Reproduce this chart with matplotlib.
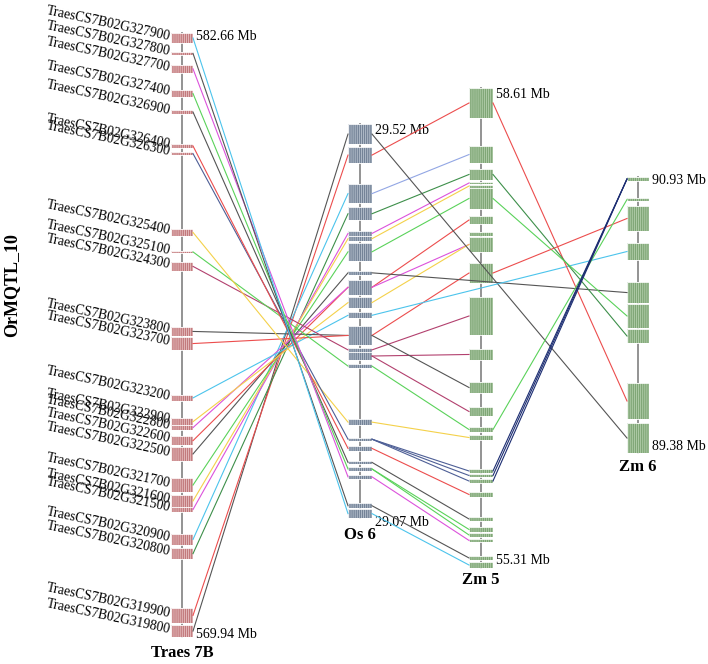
import matplotlib
matplotlib.use("Agg")
import matplotlib.pyplot as plt
from matplotlib.patches import Rectangle

plt.rcParams["font.family"] = ["Liberation Serif", "DejaVu Serif"]
plt.rcParams["hatch.linewidth"] = 0.6

# ---------------------------------------------------------------------------
# Data: gene blocks as (start Mb, end Mb), listed from the top of each bar
# ---------------------------------------------------------------------------
qtl_name = "OrMQTL_10"
chrom_names = ["Traes 7B", "Os 6", "Zm 5", "Zm 6"]
chrom_spans = [(582.66, 569.94), (29.52, 29.07), (58.61, 55.31), (90.93, 89.38)]

traes_genes = [
    "TraesCS7B02G327900", "TraesCS7B02G327800", "TraesCS7B02G327700",
    "TraesCS7B02G327400", "TraesCS7B02G326900", "TraesCS7B02G326400",
    "TraesCS7B02G326300", "TraesCS7B02G325400", "TraesCS7B02G325100",
    "TraesCS7B02G324300", "TraesCS7B02G323800", "TraesCS7B02G323700",
    "TraesCS7B02G323200", "TraesCS7B02G322900", "TraesCS7B02G322800",
    "TraesCS7B02G322600", "TraesCS7B02G322500", "TraesCS7B02G321700",
    "TraesCS7B02G321600", "TraesCS7B02G321500", "TraesCS7B02G320900",
    "TraesCS7B02G320800", "TraesCS7B02G319900", "TraesCS7B02G319800",
]
traes_blocks = [
    (582.66, 582.45), (582.26, 582.20), (581.99, 581.82), (581.46, 581.31),
    (581.04, 580.95), (580.32, 580.24), (580.15, 580.09), (578.53, 578.39),
    (578.07, 578.03), (577.84, 577.65), (576.47, 576.28), (576.26, 575.98),
    (575.04, 574.91), (574.55, 574.40), (574.40, 574.30), (574.17, 573.98),
    (573.94, 573.65), (573.29, 572.99), (572.93, 572.68), (572.68, 572.57),
    (572.11, 571.88), (571.81, 571.58), (570.55, 570.24), (570.19, 569.94),
]
os_blocks = [
    (29.520, 29.497), (29.494, 29.475), (29.451, 29.430), (29.425, 29.410),
    (29.398, 29.392), (29.392, 29.386), (29.384, 29.364), (29.352, 29.348),
    (29.342, 29.325), (29.322, 29.310), (29.305, 29.298), (29.289, 29.268),
    (29.264, 29.260), (29.260, 29.250), (29.246, 29.241), (29.183, 29.176),
    (29.161, 29.159), (29.152, 29.147), (29.135, 29.132), (29.128, 29.124),
    (29.119, 29.115), (29.087, 29.081), (29.080, 29.070),
]
zm5_blocks = [
    (58.610, 58.404), (58.211, 58.094), (58.053, 57.978), (57.964, 57.950),
    (57.943, 57.929), (57.923, 57.778), (57.730, 57.675), (57.620, 57.593),
    (57.586, 57.483), (57.407, 57.269), (57.173, 56.912), (56.816, 56.740),
    (56.589, 56.513), (56.417, 56.355), (56.279, 56.245), (56.224, 56.190),
    (55.991, 55.963), (55.956, 55.936), (55.922, 55.894), (55.833, 55.798),
    (55.661, 55.633), (55.592, 55.558), (55.551, 55.523), (55.510, 55.489),
    (55.393, 55.365), (55.351, 55.310),
]
zm6_blocks = [
    (90.930, 90.908), (90.812, 90.795), (90.767, 90.627), (90.559, 90.464),
    (90.340, 90.222), (90.217, 90.082), (90.076, 89.998), (89.773, 89.571),
    (89.548, 89.380),
]

# collinear pairs: (left block index, right block index, colour)
traes_os_links = [
    (23, 0, "grey"), (22, 1, "red"), (20, 2, "cyan"), (21, 3, "dgreen"),
    (19, 4, "magenta"), (18, 5, "yellow"), (17, 6, "green"), (16, 7, "grey"),
    (15, 8, "red"), (14, 8, "magenta"), (13, 9, "yellow"), (12, 10, "cyan"),
    (10, 11, "grey"), (11, 11, "red"), (9, 12, "maroon"), (8, 14, "green"),
    (7, 15, "yellow"), (6, 16, "slate"), (5, 17, "red"), (4, 18, "grey"),
    (3, 19, "green"), (2, 20, "magenta"), (1, 21, "grey"), (0, 22, "cyan"),
]
os_zm5_links = [
    (1, 0, "red"), (2, 1, "periwinkle"), (3, 2, "dgreen"), (4, 3, "magenta"),
    (5, 4, "yellow"), (6, 5, "green"), (8, 6, "red"), (8, 8, "magenta"),
    (9, 8, "yellow"), (11, 9, "red"), (12, 10, "maroon"), (13, 11, "maroon"),
    (11, 12, "grey"), (13, 13, "maroon"), (14, 14, "green"), (15, 15, "yellow"),
    (16, 16, "slate"), (16, 17, "slate"), (16, 18, "slate"), (17, 19, "red"),
    (18, 20, "grey"), (19, 21, "green"), (19, 22, "green"), (20, 23, "magenta"),
    (21, 24, "grey"), (22, 25, "cyan"),
]
os_zm6_links = [(0, 8, "grey"), (7, 4, "grey"), (10, 3, "cyan")]
zm5_zm6_links = [
    (0, 7, "red"), (2, 6, "dgreen"), (5, 5, "green"), (9, 2, "red"),
    (14, 1, "green"), (16, 0, "navy"), (17, 0, "navy"), (18, 0, "navy"),
]

LINK_COLOURS = {
    "grey": "#555555", "red": "#ec4d4d", "cyan": "#4cc4ec", "dgreen": "#3d8f4a",
    "magenta": "#dc52dc", "yellow": "#f4d14a", "green": "#5ad25a",
    "maroon": "#b2406e", "slate": "#4e5f96", "periwinkle": "#92a6e4",
    "navy": "#1c2d72",
}

# layout in figure pixels (x centre, top, bottom, half width, colours)
LAYOUT = [
    dict(x=182, top=33, bottom=637, half=11, face="#c27a7d", stripe="#e8c2c3",
         top_dy=4, bot_dy=-3, name_dy=16),
    dict(x=360, top=124, bottom=518, half=12, face="#748397", stripe="#b8c2cf",
         top_dy=6, bot_dy=5, name_dy=17),
    dict(x=481, top=88, bottom=568, half=12, face="#7fa676", stripe="#b4cfad",
         top_dy=7, bot_dy=-8, name_dy=12),
    dict(x=638, top=177, bottom=453, half=11, face="#7fa676", stripe="#b4cfad",
         top_dy=4, bot_dy=-6, name_dy=14),
]
ALL_BLOCKS = [traes_blocks, os_blocks, zm5_blocks, zm6_blocks]


def to_y(ci, mb):
    lay = LAYOUT[ci]
    start, end = chrom_spans[ci]
    return lay["top"] + (start - mb) / (start - end) * (lay["bottom"] - lay["top"])


def block_mid(ci, bi):
    s, e = ALL_BLOCKS[ci][bi]
    return (to_y(ci, s) + to_y(ci, e)) / 2


def draw_links(ax, left, right, links):
    x0 = LAYOUT[left]["x"] + LAYOUT[left]["half"]
    x1 = LAYOUT[right]["x"] - LAYOUT[right]["half"]
    for a, b, col in links:
        ax.plot([x0, x1], [block_mid(left, a), block_mid(right, b)],
                color=LINK_COLOURS[col], lw=0.8, zorder=3)


fig = plt.figure(figsize=(7.08, 6.64), dpi=100)
ax = fig.add_axes([0, 0, 1, 1])
ax.set_xlim(0, 708)
ax.set_ylim(664, 0)
ax.axis("off")

for ci, lay in enumerate(LAYOUT):
    x, h = lay["x"], lay["half"]
    ax.plot([x, x], [lay["top"], lay["bottom"]], color="#8a8a8a", lw=1.3, zorder=1)
    for s, e in ALL_BLOCKS[ci]:
        y0, y1 = to_y(ci, s), to_y(ci, e)
        ax.add_patch(Rectangle((x - h, y0), 2 * h, max(y1 - y0, 2.5),
                               facecolor=lay["face"], edgecolor=lay["stripe"],
                               hatch="|" * 8, lw=0, zorder=2))
        ax.add_patch(Rectangle((x - h, y0), 2 * h, max(y1 - y0, 2.5),
                               facecolor="none", edgecolor="white", lw=0.6, zorder=2))
    start, end = chrom_spans[ci]
    ax.text(x + h + 3, lay["top"] + lay["top_dy"], f"{start:.2f} Mb",
            fontsize=10, ha="left", va="center")
    ax.text(x + h + 3, lay["bottom"] + lay["bot_dy"], f"{end:.2f} Mb",
            fontsize=10, ha="left", va="center")
    ax.text(x, lay["bottom"] + lay["name_dy"], chrom_names[ci], fontsize=12,
            fontweight="bold", ha="center", va="center")

draw_links(ax, 0, 1, traes_os_links)
draw_links(ax, 1, 2, os_zm5_links)
draw_links(ax, 1, 3, os_zm6_links)
draw_links(ax, 2, 3, zm5_zm6_links)

# gene ids along the wheat bar
for i, gene in enumerate(traes_genes):
    ax.text(LAYOUT[0]["x"] - LAYOUT[0]["half"] - 2, block_mid(0, i) + 2, gene,
            fontsize=9.8, rotation=-12, rotation_mode="anchor",
            ha="right", va="baseline")

ax.text(12, 285, qtl_name, fontsize=13, fontweight="bold", rotation=90,
        ha="center", va="center")

fig.savefig("out.png", dpi=100)
